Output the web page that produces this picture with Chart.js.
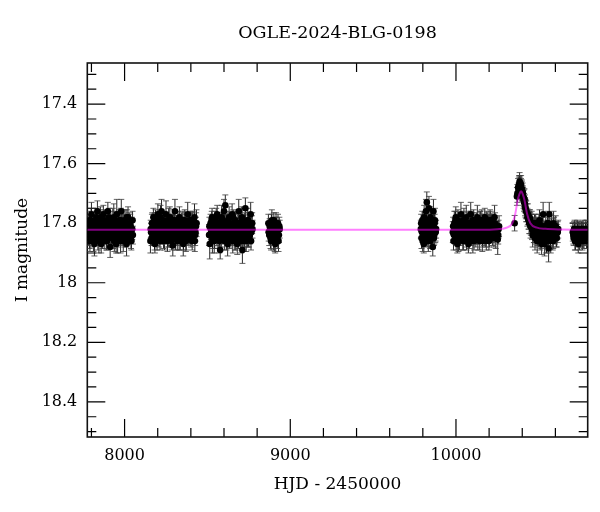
<!DOCTYPE html>
<html><head><meta charset="utf-8">
<script src="https://cdn.jsdelivr.net/npm/chart.js@4/dist/chart.umd.min.js"></script>
<style>html,body{margin:0;padding:0;background:#fff}canvas{display:block}</style>
</head><body>
<canvas id="c" width="600" height="512"></canvas>
<script>
const titleText = 'OGLE-2024-BLG-0198';
const xTitle = 'HJD - 2450000';
const yTitle = 'I magnitude';

// tick labels / tick positions
const xMajor = [8000, 9000, 10000];
const xMinor = [7800, 8200, 8400, 8600, 8800, 9200, 9400, 9600, 9800, 10200, 10400, 10600];
const yMajor = [17.4, 17.6, 17.8, 18, 18.2, 18.4];
const yMinor = [17.3, 17.35, 17.45, 17.5, 17.55, 17.65, 17.7, 17.75, 17.85, 17.9, 17.95, 18.05, 18.1, 18.15, 18.25, 18.3, 18.35, 18.45, 18.5];

// observations, part A (HJD-2450000, I mag, error)
const hjdA = [
7778,7782,7787,7791,7796,7800,7805,7809,7814,7818,7823,7827,7832,7836,7841,7845,7850,7854,7859,7863,7868,
7872,7877,7881,7886,7890,7895,7899,7904,7908,7913,7917,7922,7926,7931,7935,7940,7944,7949,7953,7958,7962,
7967,7971,7976,7980,7985,7989,7994,7998,8003,8007,8012,8016,8021,8025,8030,8034,8039,8043,8048,
8156,8160,8165,8169,8174,8178,8183,8187,8192,8196,8201,8205,8210,8214,8219,8223,8228,8232,8237,8241,
8246,8250,8255,8259,8264,8268,8273,8277,8282,8286,8291,8295,8300,8304,8309,8313,8318,8322,8327,8331,
8336,8340,8345,8349,8354,8358,8363,8367,8372,8376,8381,8385,8390,8394,8399,8403,8408,8412,8417,8422,8426,8431,8434,
8510,8514,8519,8523,8528,8532,8537,8541,8546,8550,8555,8559,8564,8568,8573,8577,8582,8586,8591,8595,
8600,8604,8608,8613,8617,8622,8626,8631,8635,8640,8644,8649,8653,8658,8662,8667,8671,8676,8680,8685,
8689,8694,8698,8703,8707,8711,8716,8720,8725,8729,8734,8738,8743,8747,8752,8756,8761,8765,8770,
8868,8873,8878,8884,8889,8894,8899,8904,8909,8914,8919,8924,8929,8934,
9788,9792,9797,9801,9806,9810,9815,9819,9824,9828,9833,9837,9842,9846,9851,9855,9860,9864,9869,9873,9877,
9981,9985,9990,9994,9999,10003,10008,10012,10017,10021,10026,10030,10035,10039,10044,10048,10053,10057,10062,10066,
10071,10075,10080,10084,10089,10093,10098,10102,10107,10111,10116,10120,10125,10129,10134,10138,10143,10147,10152,10156,
10161,10165,10170,10174,10179,10183,10188,10192,10197,10201,10206,10210,10215,10220,10226,10233,10240,10247,10252,10257,
10354,10368,10371,10375,10378,10381,10384,10387,10390,10393,10396,10399,10402,10405,10408,10411,10414,10417,10420,10424,
10427,10431,10434,10438,10442,10446,10450,10455,10459,10463,10468,10472,10477,10481,10486,10490,10495,10499,10504,10508,
10513,10517,10522,10526,10531,10535,10540,10545,10549,10553,10559,10563,10567,10572,10578,10584,10589,10595,10605,10614,
10708,10713,10718,10723,10728,10733,10738,10743,10748,10753,10758,10763,10768,10773,10778,10783,10788,10793
];
const magA = [
17.81,17.84,17.79,17.86,17.82,17.77,17.85,17.80,17.83,17.87,17.79,17.82,17.84,17.76,17.81,17.86,17.83,17.78,17.87,17.80,17.82,
17.77,17.85,17.83,17.80,17.86,17.81,17.76,17.84,17.82,17.88,17.79,17.83,17.81,17.85,17.78,17.84,17.80,17.87,17.77,17.85,17.83,
17.79,17.81,17.86,17.76,17.84,17.80,17.82,17.85,17.79,17.83,17.87,17.81,17.78,17.84,17.82,17.80,17.85,17.82,17.79,
17.86,17.83,17.80,17.84,17.78,17.82,17.87,17.79,17.81,17.85,17.77,17.83,17.80,17.86,17.82,17.76,17.84,17.81,17.79,17.85,
17.83,17.77,17.82,17.86,17.80,17.84,17.78,17.83,17.81,17.85,17.875,17.79,17.82,17.76,17.84,17.81,17.86,17.80,17.83,17.78,
17.85,17.82,17.80,17.84,17.87,17.81,17.79,17.83,17.85,17.80,17.77,17.82,17.84,17.81,17.79,17.83,17.86,17.80,17.82,17.78,17.84,17.81,17.80,
17.84,17.87,17.80,17.83,17.78,17.85,17.81,17.86,17.79,17.83,17.82,17.77,17.85,17.80,17.84,17.89,17.81,17.78,17.84,17.82,
17.76,17.86,17.74,17.83,17.80,17.87,17.82,17.78,17.85,17.81,17.84,17.77,17.86,17.80,17.83,17.79,17.85,17.82,17.87,17.80,
17.76,17.84,17.81,17.86,17.78,17.89,17.82,17.84,17.80,17.75,17.86,17.83,17.79,17.85,17.81,17.84,17.77,17.83,17.80,
17.80,17.84,17.82,17.86,17.79,17.83,17.85,17.81,17.87,17.80,17.84,17.82,17.86,17.81,
17.82,17.85,17.79,17.83,17.87,17.80,17.84,17.76,17.73,17.81,17.86,17.75,17.83,17.78,17.85,17.80,17.88,17.76,17.84,17.79,17.83,
17.83,17.86,17.80,17.84,17.78,17.82,17.87,17.79,17.83,17.85,17.80,17.77,17.84,17.81,17.86,17.79,17.83,17.82,17.78,17.85,
17.81,17.87,17.80,17.83,17.77,17.84,17.82,17.86,17.79,17.83,17.81,17.85,17.80,17.78,17.84,17.82,17.86,17.80,17.83,17.79,
17.85,17.81,17.84,17.78,17.82,17.86,17.80,17.83,17.81,17.85,17.79,17.79,17.80,17.84,17.82,17.78,17.85,17.83,17.855,17.82,
17.80,17.71,17.70,17.68,17.69,17.67,17.66,17.675,17.68,17.67,17.69,17.70,17.695,17.71,17.72,17.73,17.72,17.745,17.75,17.76,
17.765,17.78,17.77,17.79,17.80,17.785,17.81,17.80,17.82,17.84,17.81,17.83,17.85,17.80,17.83,17.86,17.82,17.84,17.79,17.86,
17.82,17.87,17.81,17.77,17.84,17.87,17.82,17.86,17.84,17.80,17.885,17.77,17.83,17.86,17.82,17.85,17.80,17.83,17.84,17.83,
17.84,17.82,17.86,17.83,17.85,17.82,17.87,17.84,17.83,17.85,17.82,17.86,17.83,17.85,17.84,17.82,17.86,17.83
];
const errA = [
.03,.035,.03,.035,.03,.04,.03,.035,.03,.04,.03,.045,.03,.035,.03,.04,.03,.035,.03,.04,.05,
.03,.035,.03,.04,.03,.035,.03,.04,.03,.035,.03,.04,.03,.035,.045,.03,.04,.03,.05,.05,.03,
.035,.03,.04,.04,.035,.03,.04,.03,.035,.03,.04,.03,.035,.03,.04,.03,.035,.04,.03,
.04,.03,.03,.035,.03,.04,.03,.035,.03,.04,.035,.03,.04,.03,.035,.04,.03,.035,.03,.04,
.03,.045,.03,.035,.03,.04,.035,.03,.04,.03,.035,.035,.03,.04,.03,.035,.03,.04,.03,.035,
.04,.03,.035,.03,.04,.03,.035,.03,.04,.03,.04,.035,.03,.04,.03,.035,.03,.04,.03,.045,.035,.03,.045,
.035,.05,.03,.04,.03,.035,.03,.04,.03,.035,.04,.03,.035,.03,.04,.03,.035,.04,.03,.035,
.04,.03,.035,.035,.03,.04,.03,.035,.03,.04,.03,.035,.04,.03,.035,.03,.04,.03,.035,.03,
.04,.03,.035,.04,.035,.045,.03,.04,.035,.035,.035,.03,.04,.03,.035,.03,.04,.03,.035,
.03,.035,.03,.03,.035,.03,.04,.03,.03,.035,.03,.03,.035,.03,
.03,.035,.03,.04,.03,.035,.03,.04,.035,.03,.035,.04,.03,.035,.03,.04,.03,.04,.03,.04,.03,
.035,.03,.04,.03,.035,.04,.03,.035,.03,.04,.035,.04,.03,.035,.03,.04,.03,.035,.04,.03,
.035,.03,.04,.03,.04,.035,.03,.04,.035,.03,.04,.03,.035,.04,.03,.035,.03,.04,.03,.035,
.03,.04,.035,.03,.04,.03,.035,.03,.04,.03,.035,.03,.03,.035,.03,.04,.035,.03,.05,.03,
.026,.03,.03,.03,.025,.03,.03,.03,.025,.03,.03,.025,.03,.03,.03,.03,.035,.03,.03,.035,
.03,.03,.035,.03,.035,.03,.04,.03,.035,.04,.03,.035,.04,.03,.035,.04,.03,.04,.035,.03,
.04,.035,.04,.04,.035,.04,.03,.04,.035,.04,.045,.04,.035,.04,.035,.04,.04,.035,.04,.035,
.03,.025,.03,.03,.025,.03,.03,.025,.03,.03,.025,.03,.03,.025,.03,.03,.025,.03
];

// observations, part B (interleaved nights)
const hjdB = [
7780,7785,7789,7794,7798,7803,7807,7812,7816,7821,7825,7830,7834,7839,7843,7848,7852,7857,7861,7866,
7870,7875,7879,7884,7888,7893,7897,7902,7906,7911,7915,7920,7924,7929,7933,7938,7942,7947,7951,7956,
7960,7965,7969,7974,7978,7983,7987,7992,7996,8001,8005,8010,8014,8019,8023,8028,8032,8037,8041,8046,8050,
8158,8163,8167,8172,8176,8181,8185,8190,8194,8199,8203,8208,8212,8217,8221,8226,8230,8235,8239,8244,
8248,8253,8257,8262,8266,8271,8275,8280,8284,8289,8293,8298,8302,8307,8311,8316,8320,8325,8329,8334,
8338,8343,8347,8352,8356,8361,8365,8370,8374,8379,8383,8388,8392,8397,8401,8406,8410,8415,8419,8424,8428,8432,
8512,8517,8521,8526,8530,8535,8539,8544,8548,8553,8557,8562,8566,8571,8575,8580,8584,8589,8593,8598,
8602,8606,8611,8615,8620,8624,8629,8633,8638,8642,8647,8651,8656,8660,8665,8669,8674,8678,8683,8687,
8692,8696,8701,8705,8709,8714,8718,8723,8727,8732,8736,8741,8745,8750,8754,8759,8763,8768,8772,
8870,8876,8881,8886,8891,8896,8901,8906,8911,8916,8921,8926,8931,8936,
9790,9795,9799,9804,9808,9813,9817,9822,9826,9831,9835,9840,9844,9849,9853,9858,9862,9867,9871,9875,9880,
9983,9988,9992,9997,10001,10006,10010,10015,10019,10024,10028,10033,10037,10042,10046,10051,10055,10060,10064,10069,
10073,10078,10082,10087,10091,10096,10100,10105,10109,10114,10118,10123,10127,10132,10136,10141,10145,10150,10154,10159,
10163,10168,10172,10177,10181,10186,10190,10195,10199,10204,10208,10213,10218,10223,10229,10236,10243,10250,10255,10260,
10380,10386,10392,10398,10404,10410,10416,10422,
10440,10444,10448,10452,10457,10461,10465,10470,10474,10479,10483,10488,10492,10497,10501,10506,10510,10515,10520,10524,
10528,10533,10538,10542,10547,10551,10556,10561,10565,10570,10575,10581,10587,10592,10598,10602,10608,10611,10617,
10705,10710,10716,10721,10726,10731,10736,10741,10746,10751,10756,10761,10766,10771,10776,10781,10786,10791,10795
];
const magB = [
17.83,17.80,17.85,17.82,17.79,17.84,17.81,17.86,17.82,17.80,17.84,17.78,17.83,17.85,17.81,17.79,17.84,17.82,17.80,17.85,
17.81,17.83,17.79,17.84,17.82,17.86,17.80,17.83,17.78,17.85,17.81,17.84,17.82,17.79,17.83,17.86,17.81,17.80,17.84,17.82,
17.85,17.80,17.83,17.81,17.79,17.84,17.82,17.86,17.80,17.83,17.81,17.85,17.78,17.82,17.84,17.80,17.83,17.81,17.86,17.82,17.84,
17.82,17.85,17.80,17.83,17.81,17.86,17.79,17.84,17.82,17.80,17.83,17.85,17.81,17.78,17.84,17.82,17.80,17.86,17.83,17.81,
17.84,17.80,17.82,17.85,17.79,17.83,17.81,17.84,17.86,17.80,17.82,17.83,17.79,17.85,17.81,17.84,17.82,17.80,17.86,17.83,
17.80,17.84,17.82,17.79,17.85,17.81,17.83,17.86,17.80,17.82,17.84,17.81,17.79,17.83,17.85,17.80,17.82,17.84,17.81,17.86,17.83,17.80,
17.81,17.84,17.82,17.79,17.86,17.80,17.83,17.85,17.81,17.78,17.84,17.82,17.80,17.86,17.83,17.81,17.85,17.79,17.83,17.82,
17.80,17.84,17.81,17.86,17.82,17.79,17.83,17.85,17.80,17.82,17.84,17.81,17.78,17.83,17.86,17.80,17.82,17.84,17.81,17.85,
17.83,17.80,17.85,17.82,17.79,17.84,17.81,17.86,17.80,17.83,17.82,17.85,17.79,17.84,17.81,17.83,17.86,17.80,17.82,
17.83,17.81,17.85,17.80,17.84,17.82,17.79,17.86,17.83,17.81,17.85,17.80,17.84,17.82,
17.80,17.83,17.86,17.81,17.78,17.84,17.82,17.79,17.85,17.80,17.83,17.81,17.86,17.82,17.79,17.84,17.81,17.85,17.80,17.83,17.82,
17.81,17.84,17.82,17.79,17.85,17.80,17.83,17.86,17.81,17.82,17.84,17.80,17.83,17.85,17.79,17.82,17.84,17.81,17.86,17.80,
17.83,17.81,17.85,17.82,17.80,17.84,17.79,17.83,17.86,17.81,17.82,17.84,17.80,17.85,17.83,17.81,17.79,17.84,17.82,17.86,
17.80,17.83,17.81,17.85,17.82,17.79,17.84,17.81,17.86,17.80,17.83,17.82,17.84,17.81,17.85,17.80,17.83,17.82,17.84,17.81,
17.675,17.665,17.68,17.685,17.70,17.715,17.735,17.755,
17.79,17.78,17.80,17.81,17.80,17.82,17.81,17.83,17.80,17.84,17.82,17.81,17.85,17.83,17.80,17.84,17.82,17.86,17.81,17.83,
17.85,17.82,17.84,17.81,17.86,17.83,17.80,17.84,17.82,17.85,17.81,17.83,17.86,17.82,17.84,17.81,17.85,17.83,17.82,
17.83,17.85,17.82,17.86,17.84,17.83,17.85,17.82,17.86,17.84,17.83,17.85,17.82,17.86,17.84,17.83,17.85,17.82,17.84
];
const errB = [
.03,.025,.035,.03,.04,.03,.025,.035,.03,.03,.035,.03,.025,.04,.03,.035,.03,.025,.03,.035,
.03,.025,.035,.03,.04,.03,.025,.035,.03,.03,.035,.03,.025,.04,.03,.035,.03,.025,.03,.035,
.03,.025,.035,.03,.04,.03,.025,.035,.03,.03,.035,.03,.025,.04,.03,.035,.03,.025,.03,.035,.03,
.03,.025,.035,.03,.04,.03,.025,.035,.03,.03,.035,.03,.025,.04,.03,.035,.03,.025,.03,.035,
.03,.025,.035,.03,.04,.03,.025,.035,.03,.03,.035,.03,.025,.04,.03,.035,.03,.025,.03,.035,
.03,.025,.035,.03,.04,.03,.025,.035,.03,.03,.035,.03,.025,.04,.03,.035,.03,.025,.03,.035,.03,.035,
.03,.025,.035,.03,.04,.03,.025,.035,.03,.03,.035,.03,.025,.04,.03,.035,.03,.025,.03,.035,
.03,.025,.035,.03,.04,.03,.025,.035,.03,.03,.035,.03,.025,.04,.03,.035,.03,.025,.03,.035,
.03,.025,.035,.03,.04,.03,.025,.035,.03,.03,.035,.03,.025,.04,.03,.035,.03,.025,.03,
.03,.025,.035,.03,.03,.03,.025,.035,.03,.03,.035,.03,.025,.03,
.03,.025,.035,.03,.04,.03,.025,.035,.03,.03,.035,.03,.025,.04,.03,.035,.03,.025,.03,.035,.03,
.03,.025,.035,.03,.04,.03,.025,.035,.03,.03,.035,.03,.025,.04,.03,.035,.03,.025,.03,.035,
.03,.025,.035,.03,.04,.03,.025,.035,.03,.03,.035,.03,.025,.04,.03,.035,.03,.025,.03,.035,
.03,.025,.035,.03,.04,.03,.025,.035,.03,.03,.035,.03,.025,.04,.03,.035,.03,.025,.03,.035,
.03,.025,.03,.03,.025,.03,.03,.03,
.03,.025,.035,.03,.04,.03,.025,.035,.03,.03,.035,.03,.025,.04,.03,.035,.03,.025,.03,.035,
.03,.025,.035,.03,.04,.03,.025,.035,.03,.03,.035,.03,.025,.04,.03,.035,.03,.025,.03,
.03,.025,.03,.03,.025,.03,.03,.025,.03,.03,.025,.03,.03,.025,.03,.03,.025,.03,.03
];

const hjd = hjdA.concat(hjdB);
const mag = magA.concat(magB);
const magErr = errA.concat(errB);

// model curve
const modelHjd = [7775, 10150, 10250, 10300, 10338, 10358, 10372, 10383, 10393, 10403, 10414, 10429, 10449, 10489, 10540, 10640, 10795];
const modelMag = [17.822, 17.822, 17.820, 17.816, 17.802, 17.768, 17.724, 17.702, 17.693, 17.702, 17.724, 17.768, 17.800, 17.815, 17.819, 17.821, 17.822];

const SERIF = "'DejaVu Serif', serif";

const framePlugin = {
  id: 'frameTicks',
  beforeDatasetsDraw(chart) {
    const {ctx, chartArea: a, scales: {x, y}} = chart;
    ctx.save();
    ctx.strokeStyle = '#000';
    ctx.lineWidth = 1.2;
    ctx.beginPath();
    const MAJ = 18, MIN = 9;
    const vt = (v, len) => {
      const px = x.getPixelForValue(v);
      ctx.moveTo(px, a.bottom); ctx.lineTo(px, a.bottom - len);
      ctx.moveTo(px, a.top); ctx.lineTo(px, a.top + len);
    };
    const ht = (v, len) => {
      const py = y.getPixelForValue(v);
      ctx.moveTo(a.left, py); ctx.lineTo(a.left + len, py);
      ctx.moveTo(a.right, py); ctx.lineTo(a.right - len, py);
    };
    xMajor.forEach(v => vt(v, MAJ));
    xMinor.forEach(v => vt(v, MIN));
    yMajor.forEach(v => ht(v, MAJ));
    yMinor.forEach(v => ht(v, MIN));
    ctx.stroke();
    ctx.lineWidth = 1.6;
    ctx.strokeStyle = '#111';
    ctx.strokeRect(a.left, a.top, a.right - a.left, a.bottom - a.top);
    ctx.restore();
  }
};

const errorBarPlugin = {
  id: 'errorBars',
  beforeDatasetsDraw(chart) {
    const {ctx, chartArea: a, scales: {x, y}} = chart;
    ctx.save();
    ctx.beginPath();
    ctx.rect(a.left, a.top, a.right - a.left, a.bottom - a.top);
    ctx.clip();
    ctx.lineWidth = 1;
    ctx.strokeStyle = 'rgba(0,0,0,0.85)';
    ctx.beginPath();
    for (let i = 0; i < hjd.length; i++) {
      const px = x.getPixelForValue(hjd[i]);
      ctx.moveTo(px, y.getPixelForValue(mag[i] - magErr[i]));
      ctx.lineTo(px, y.getPixelForValue(mag[i] + magErr[i]));
    }
    ctx.stroke();
    ctx.strokeStyle = 'rgba(60,60,60,0.8)';
    ctx.beginPath();
    for (let i = 0; i < hjd.length; i++) {
      const px = x.getPixelForValue(hjd[i]);
      const y1 = y.getPixelForValue(mag[i] - magErr[i]);
      const y2 = y.getPixelForValue(mag[i] + magErr[i]);
      ctx.moveTo(px - 3, y1); ctx.lineTo(px + 3, y1);
      ctx.moveTo(px - 3, y2); ctx.lineTo(px + 3, y2);
    }
    ctx.stroke();
    ctx.restore();
  }
};

new Chart(document.getElementById('c'), {
  type: 'scatter',
  data: {
    datasets: [
      {
        label: 'model',
        data: modelHjd.map((t, i) => ({x: t, y: modelMag[i]})),
        showLine: true,
        pointRadius: 0,
        borderColor: 'rgba(255,0,255,0.5)',
        borderWidth: 2,
        cubicInterpolationMode: 'monotone',
        order: 0
      },
      {
        label: 'OGLE',
        data: hjd.map((t, i) => ({x: t, y: mag[i]})),
        pointRadius: 3.3,
        pointBackgroundColor: '#000',
        pointBorderWidth: 0,
        showLine: false,
        order: 1
      }
    ]
  },
  options: {
    responsive: false,
    animation: false,
    devicePixelRatio: 1,
    layout: {padding: {left: 0, right: 12.3, top: 0, bottom: 0}},
    plugins: {
      legend: {display: false},
      tooltip: {enabled: false},
      title: {
        display: true, text: titleText, fullSize: false, color: '#000',
        font: {family: SERIF, size: 17.5, weight: 'normal'},
        padding: {top: 23, bottom: 19}
      }
    },
    scales: {
      x: {
        type: 'linear', min: 7775, max: 10795,
        grid: {display: false, drawTicks: false},
        border: {display: false},
        afterBuildTicks: s => { s.ticks = xMajor.map(v => ({value: v})); },
        afterFit: s => { s.height = 75; },
        ticks: {color: '#000', font: {family: SERIF, size: 16}, padding: 9, maxRotation: 0, autoSkip: false,
          callback: v => String(v)},
        title: {display: true, text: xTitle, color: '#000', font: {family: SERIF, size: 17}, padding: {top: 0, bottom: 17}}
      },
      y: {
        type: 'linear', reverse: true, min: 17.262, max: 18.518,
        grid: {display: false, drawTicks: false},
        border: {display: false},
        afterBuildTicks: s => { s.ticks = yMajor.map(v => ({value: v})); },
        afterFit: s => { s.width = 87.3; },
        ticks: {color: '#000', font: {family: SERIF, size: 16}, padding: 10, autoSkip: false,
          callback: v => String(v)},
        title: {display: true, text: yTitle, color: '#000', font: {family: SERIF, size: 17}, padding: {top: 12, bottom: 0}}
      }
    }
  },
  plugins: [framePlugin, errorBarPlugin]
});
</script>
</body></html>
